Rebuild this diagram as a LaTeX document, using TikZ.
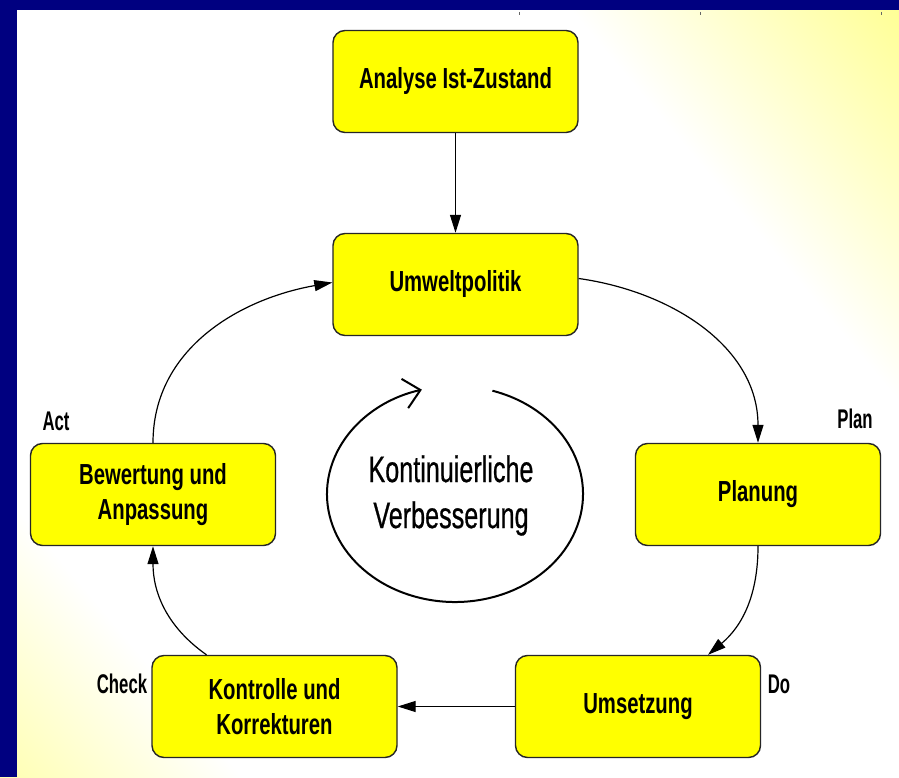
\documentclass[tikz,border=0pt]{standalone}
\usepackage{fontspec}
\newfontfamily\diafont{Liberation Sans}[FakeStretch=0.7]
\newfontfamily\labfont{Liberation Sans}[FakeStretch=0.62]
\newfontfamily\cenfont{Liberation Sans}[FakeStretch=0.68,FakeBold=0.6]
\usetikzlibrary{arrows.meta,calc}
\definecolor{navyb}{RGB}{0,0,128}
\definecolor{boxyel}{RGB}{255,255,0}
\definecolor{bgyelA}{RGB}{255,255,175}
\definecolor{bgyelB}{RGB}{255,255,145}
\pgfdeclarehorizontalshading{bgshade}{100bp}{color(0bp)=(bgyelA); color(25bp)=(bgyelA); color(33bp)=(white); color(64bp)=(white); color(75bp)=(bgyelB); color(100bp)=(bgyelB)}
\begin{document}
\begin{tikzpicture}[x=1pt,y=1pt,
  stepbox/.style={draw=black!85, line width=1.4pt, fill=boxyel, rounded corners=12pt,
    minimum width=245pt, minimum height=102pt, align=center, inner sep=0pt,
    font=\diafont\bfseries\fontsize{29}{35}\selectfont},
  conn/.style={line width=1.2pt, -{Triangle[length=18pt,width=11pt]}},
  phase/.style={font=\labfont\bfseries\fontsize{27}{30}\selectfont, inner sep=0pt},
  tick/.style={black!60, line width=1pt}]

\useasboundingbox (0,0) rectangle (899,777);
\begin{scope}
  \clip (0,0) rectangle (899,777);
  \fill[white] (0,0) rectangle (899,777);
  \begin{scope}[transform canvas={rotate around={40:(449.5,388.5)}}]
    \shade[shading=bgshade] (-150.5,-211.5) rectangle (1049.5,988.5);
  \end{scope}
\end{scope}
\fill[navyb] (0,0) rectangle (17,777);
\fill[navyb] (0,767) rectangle (899,777);
\draw[tick] (519,765) -- (519,762);
\draw[tick] (700,765) -- (700,762);
\draw[tick] (881,765) -- (881,762);

% boxes
\node[stepbox] (ana) at (455.5,695.5) {Analyse Ist-Zustand};
\node[stepbox] (umw) at (455.5,492.5) {Umweltpolitik};
\node[stepbox] (pla) at (758,282.5) {Planung};
\node[stepbox] (bew) at (153,282.5) {Bewertung und\\Anpassung};
\node[stepbox] (ums) at (638,70.5) {Umsetzung};
\node[stepbox] (kon) at (274.5,70.5) {Kontrolle und\\Korrekturen};

% phase labels
\node[phase] (lplan) at (855,358) {Plan};
\node[phase] (lact) at (56,356) {Act};
\node[phase] (lcheck) at (122,93) {Check};
\node[phase] (ldo) at (779,93) {Do};

% centre
\node[font=\cenfont\fontsize{37}{46}\selectfont, align=center, inner sep=0pt] (kv) at (451,281.5) {Kontinuierliche\\Verbesserung};
\coordinate (cyc) at (455,283);
\draw[line width=2pt, -{Straight Barb[length=16pt,width=30pt]}]
  ([shift={(73:128 and 108)}]cyc) arc[start angle=73, end angle=-255, x radius=128, y radius=108];

% connectors
\draw[conn] (ana) -- (umw);
\draw[conn] ([yshift=6pt]umw.east) to[out=-8, in=90] (pla.north);
\draw[conn] (pla.south) to[out=-90, in=40] ([xshift=70pt]ums.north);
\draw[conn] (ums.west) -- (kon.east);
\draw[conn] ([xshift=-68pt]kon.north) to[out=145, in=-90] (bew.south);
\draw[conn] (bew.north) to[out=90, in=190] ([yshift=2pt]umw.west);
\end{tikzpicture}
\end{document}
